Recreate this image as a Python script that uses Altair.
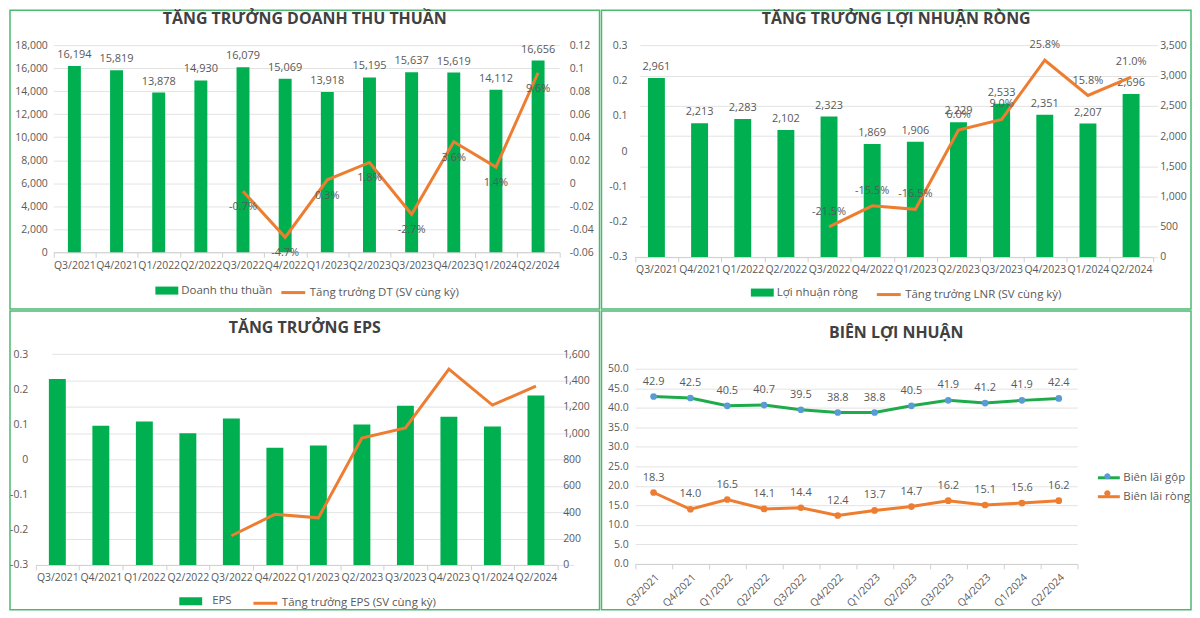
import altair as alt
import pandas as pd

quarters = ["Q3/2021", "Q4/2021", "Q1/2022", "Q2/2022", "Q3/2022", "Q4/2022",
            "Q1/2023", "Q2/2023", "Q3/2023", "Q4/2023", "Q1/2024", "Q2/2024"]
growth_quarters = quarters[4:]

revenue = [16194, 15819, 13878, 14930, 16079, 15069, 13918, 15195, 15637, 15619, 14112, 16656]
revenue_growth = [-0.007, -0.047, 0.003, 0.018, -0.027, 0.036, 0.014, 0.096]
net_profit = [2961, 2213, 2283, 2102, 2323, 1869, 1906, 2229, 2533, 2351, 2207, 2696]
net_profit_growth = [-0.215, -0.155, -0.165, 0.060, 0.090, 0.258, 0.158, 0.210]
eps = [1411, 1056, 1088, 1000, 1111, 889, 907, 1066, 1209, 1124, 1051, 1285]
eps_growth = [-0.217, -0.156, -0.166, 0.061, 0.090, 0.257, 0.155, 0.209]
gross_margin = [42.9, 42.5, 40.5, 40.7, 39.5, 38.8, 38.8, 40.5, 41.9, 41.2, 41.9, 42.4]
net_margin = [18.3, 14.0, 16.5, 14.1, 14.4, 12.4, 13.7, 14.7, 16.2, 15.1, 15.6, 16.2]

FONT = "Open Sans"
GREEN = "#00b050"
LINE_GREEN = "#1fab4b"
ORANGE = "#ed7d31"
BLUE = "#5b9bd5"
TXT = "#595959"
TITLE = "#404040"
GRID = "#e3e3e3"
AXISLINE = "#d0d0d0"
BORDER = "#4cb870"
W, H = 592, 300
AX_FS = 10.5
LEG_FS = 11.5
BAR_SYMBOL = "M-1,-0.35L1,-0.35L1,0.35L-1,0.35Z"
DOT_SYMBOL = "M-0.28,0A0.28,0.28,0,1,0,0.28,0A0.28,0.28,0,1,0,-0.28,0Z"


def x_enc(x0, x1, ybottom, angle=0):
    return alt.X(
        "q:N", sort=quarters,
        scale=alt.Scale(type="band", domain=quarters, range=[x0, x1],
                        paddingInner=0, paddingOuter=0),
        axis=alt.Axis(title=None, orient="bottom", offset=ybottom - H,
                      labelAngle=angle, domainColor=AXISLINE, tickColor=AXISLINE,
                      tickBand="extent", ticks=True, tickSize=5, labelPadding=3,
                      grid=False, labelFont=FONT, labelFontSize=AX_FS, labelColor=TXT),
    )


def y_enc(field, domain, rng, orient, offset, values, pad, grid, fmt=None, expr=None):
    ax = dict(title=None, orient=orient, offset=offset, values=values, grid=grid,
              gridColor=GRID, domain=False, ticks=False, labelPadding=pad,
              labelFont=FONT, labelFontSize=AX_FS, labelColor=TXT)
    if fmt:
        ax["format"] = fmt
    if expr:
        ax["labelExpr"] = expr
    return alt.Y(f"{field}:Q",
                 scale=alt.Scale(domain=domain, range=rng, nice=False, zero=False),
                 axis=alt.Axis(**ax))


def legend_box(x, y, kind, offset=4):
    d = dict(title=None, orient="none", legendX=x, legendY=y, labelFont=FONT,
             labelFontSize=LEG_FS, labelColor=TXT, labelOffset=offset)
    if kind == "bar":
        d.update(symbolType=BAR_SYMBOL, symbolSize=529, symbolStrokeWidth=0)
    else:
        d.update(symbolType="stroke", symbolSize=576, symbolStrokeWidth=3)
    return alt.Legend(**d)


def combo(title, toff, bar_vals, bar_name, line_vals, line_name, xr, yr,
          bar_axis, line_axis, bar_size, bar_leg, line_leg, line_dy, line_labels):
    dfb = pd.DataFrame({"q": quarters, "v": bar_vals, "s": bar_name})
    dfb["lbl"] = [f"{v:,}" for v in bar_vals]
    dfl = pd.DataFrame({"q": growth_quarters, "g": line_vals, "s": line_name})
    dfl["lbl"] = [f"{g * 100:.1f}%" for g in line_vals]
    X = x_enc(xr[0], xr[1], yr[0])
    Yb = y_enc("v", rng=[yr[0], yr[1]], **bar_axis)
    Yl = y_enc("g", rng=[yr[0], yr[1]], **line_axis)
    bars = alt.Chart(dfb).mark_bar(size=bar_size).encode(
        x=X, y=Yb,
        fill=alt.Fill("s:N", scale=alt.Scale(domain=[bar_name], range=[GREEN]),
                      legend=bar_leg))
    line = alt.Chart(dfl).mark_line(strokeWidth=3).encode(
        x=X, y=Yl,
        stroke=alt.Stroke("s:N", scale=alt.Scale(domain=[line_name], range=[ORANGE]),
                          legend=line_leg))
    if line_labels:
        btxt = alt.Chart(dfb).mark_text(dy=-11, font=FONT, fontSize=11, color=TXT).encode(
            x=X, y=Yb, text="lbl:N")
        ltxt = alt.Chart(dfl).mark_text(dy=line_dy, font=FONT, fontSize=11, color=TXT).encode(
            x=X, y=Yl, text="lbl:N")
        lb = alt.layer(bars, btxt)
        ll = alt.layer(line, ltxt)
    else:
        lb = alt.layer(bars)
        ll = alt.layer(line)
    return alt.layer(lb, ll).resolve_scale(y="independent").properties(
        width=W, height=H,
        title=alt.TitleParams(title, offset=toff, fontSize=16, font=FONT,
                              fontWeight="bold", color=TITLE, anchor="middle"))


pct2 = "toString(round(datum.value*100)/100)"
pct1 = "toString(round(datum.value*10)/10)"
v3 = [-0.3, -0.2, -0.1, 0, 0.1, 0.2, 0.3]

p1 = combo(
    "TĂNG TRƯỞNG DOANH THU THUẦN", -17, revenue, "Doanh thu thuần",
    revenue_growth, "Tăng trưởng DT (SV cùng kỳ)", (43.5, 551.5), (243, 35),
    dict(domain=[0, 18000], orient="left", offset=-43.5,
         values=list(range(0, 18001, 2000)), pad=6, grid=True, fmt=",.0f"),
    dict(domain=[-0.06, 0.12], orient="right", offset=-40.5,
         values=[-0.06, -0.04, -0.02, 0, 0.02, 0.04, 0.06, 0.08, 0.1, 0.12],
         pad=10, grid=False, expr=pct2),
    13, legend_box(146, 270, "bar", 3), legend_box(271, 270, "line", 3), 16, True)

p2 = combo(
    "TĂNG TRƯỞNG LỢI NHUẬN RÒNG", -16.5, net_profit, "Lợi nhuận ròng",
    net_profit_growth, "Tăng trưởng LNR (SV cùng kỳ)", (33.5, 553.5), (247.7, 35.3),
    dict(domain=[0, 3500], orient="right", offset=-38.5,
         values=list(range(0, 3501, 500)), pad=7, grid=True, fmt=",.0f"),
    dict(domain=[-0.3, 0.3], orient="left", offset=-33.5, values=v3,
         pad=8, grid=False, expr=pct1),
    17, legend_box(150, 272, "bar", 3), legend_box(275, 272, "line", 3), -15, True)

p3 = combo(
    "TĂNG TRƯỞNG EPS", -25, eps, "EPS",
    eps_growth, "Tăng trưởng EPS (SV cùng kỳ)", (25.7, 550), (255, 43.3),
    dict(domain=[0, 1600], orient="right", offset=-42,
         values=list(range(0, 1601, 200)), pad=5, grid=True, fmt=",.0f"),
    dict(domain=[-0.3, 0.3], orient="left", offset=-25.7, values=v3,
         pad=8, grid=False, expr=pct1),
    17, legend_box(170, 280, "bar", 10), legend_box(243, 280, "line", 3), -15, False)

# Panel 4: margins
gname, nname = "Biên lãi gộp", "Biên lãi ròng"
dfm = pd.DataFrame({
    "q": quarters * 2,
    "v": gross_margin + net_margin,
    "s": [gname] * 12 + [nname] * 12,
})
dfm["lbl"] = [f"{v:.1f}" for v in dfm["v"]]
X4 = x_enc(33.8, 477.7, 254, angle=-45)
Y4 = y_enc("v", domain=[0, 50], rng=[254, 58], orient="left", offset=-33.8,
           values=list(range(0, 51, 5)), pad=7, grid=True, fmt=".1f")
LEG4 = dict(title=None, orient="none", legendX=497, legendY=155, symbolSize=484,
            labelFont=FONT, labelFontSize=LEG_FS, labelOffset=2, rowPadding=0)
lines4 = alt.Chart(dfm).mark_line(strokeWidth=3).encode(
    x=X4, y=Y4, detail="s:N",
    stroke=alt.Stroke("s:N", scale=alt.Scale(domain=[gname, nname], range=[LINE_GREEN, ORANGE]),
                      legend=alt.Legend(symbolType="stroke", symbolStrokeWidth=3,
                                        labelColor=TXT, **LEG4)))
pts4 = alt.Chart(dfm).mark_circle(size=45, opacity=1).encode(
    x=X4, y=Y4,
    fill=alt.Fill("s:N", scale=alt.Scale(domain=[gname, nname], range=[BLUE, ORANGE]),
                  legend=alt.Legend(symbolType=DOT_SYMBOL, symbolStrokeWidth=0,
                                    labelExpr="''", **LEG4)))
txt4 = alt.Chart(dfm).mark_text(dy=-15, font=FONT, fontSize=11, color=TXT).encode(
    x=X4, y=Y4, text="lbl:N")
p4 = alt.layer(lines4, pts4, txt4).resolve_scale(fill="independent", stroke="independent").properties(
    width=W, height=H,
    title=alt.TitleParams("BIÊN LỢI NHUẬN", offset=-30, fontSize=16, font=FONT,
                          fontWeight="bold", color=TITLE, anchor="middle"))

IND = dict(fill="independent", stroke="independent")
row1 = alt.hconcat(p1, p2, spacing=0).resolve_scale(**IND).resolve_legend(**IND)
row2 = alt.hconcat(p3, p4, spacing=0).resolve_scale(**IND).resolve_legend(**IND)
chart = alt.vconcat(row1, row2, spacing=0, padding=0, background="white").resolve_scale(
    **IND).resolve_legend(**IND).configure_view(stroke=BORDER, strokeWidth=1.5, fill="white")

chart.save("out.html", embed_options={"renderer": "svg", "actions": False})
